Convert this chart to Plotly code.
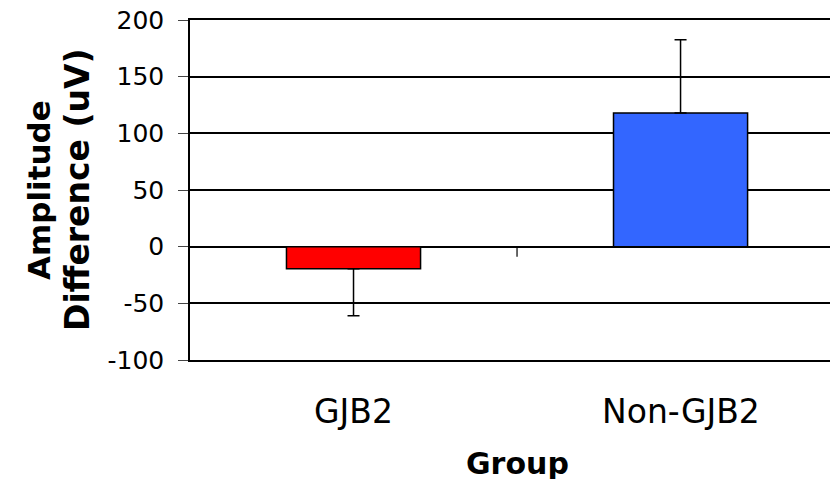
import plotly.graph_objects as go

categories = ["GJB2", "Non-GJB2"]
values = [-19.5, 118]
err_plus = [0, 64.5]
err_minus = [41.5, 0]
bar_colors = ["#FF0000", "#3366FF"]
y_ticks = [-100, -50, 0, 50, 100, 150, 200]
y_tick_text = [str(v) for v in y_ticks]
y_title_lines = ["Amplitude", "Difference (uV)"]
x_title = "Group"

FONT = "DejaVu Sans"

fig = go.Figure()
fig.add_trace(go.Bar(
    x=[0, 1],
    y=values,
    width=0.41,
    marker=dict(color=bar_colors, line=dict(color="black", width=1.5)),
    error_y=dict(type="data", symmetric=False, array=err_plus, arrayminus=err_minus,
                 color="black", thickness=1.5, width=6),
    showlegend=False,
))

# category separator tick on the zero axis
fig.add_shape(type="line", xref="x", yref="y", x0=0.5, x1=0.5, y0=0, y1=-9,
              line=dict(color="black", width=1.2))

fig.update_layout(
    width=830, height=481,
    margin=dict(l=190, r=0, t=20, b=121),
    paper_bgcolor="white", plot_bgcolor="white",
    font=dict(family=FONT, color="black"),
    xaxis=dict(range=[-0.5, 1.457], showticklabels=False, ticks="", showgrid=False,
               zeroline=False, showline=True, linecolor="black", linewidth=1.5, mirror=True,
               fixedrange=True),
    yaxis=dict(range=[-100, 200], tickvals=y_ticks, ticktext=y_tick_text,
               ticks="outside", ticklen=10,
               tickcolor="#444", tickwidth=1.2, tickfont=dict(size=25, family=FONT),
               showgrid=True, gridcolor="black", gridwidth=1.5,
               zeroline=True, zerolinecolor="black", zerolinewidth=1.5,
               showline=True, linecolor="black", linewidth=1.5, ticklabelstandoff=9,
               fixedrange=True),
)

# category labels
for i, c in enumerate(categories):
    fig.add_annotation(x=i, y=0, xref="x", yref="paper", yshift=-51, text=c,
                       showarrow=False, font=dict(size=33, family=FONT), yanchor="middle")

fig.add_annotation(x=(517 - 190) / 640, y=0, xref="paper", yref="paper", yshift=-103,
                   text="<b>%s</b>" % x_title, showarrow=False, xanchor="center",
                   yanchor="middle", height=32, valign="middle",
                   font=dict(size=30, family=FONT))

for line, shift, size in zip(y_title_lines, [-151, -113], [31, 33]):
    fig.add_annotation(x=0, y=0.5, xref="paper", yref="paper", xshift=shift, textangle=-90,
                       text="<b>%s</b>" % line, showarrow=False,
                       xanchor="center", yanchor="middle", font=dict(size=size, family=FONT))

fig.write_html("out.html", post_script="document.body.style.margin='0';",
               config={"displayModeBar": False})
